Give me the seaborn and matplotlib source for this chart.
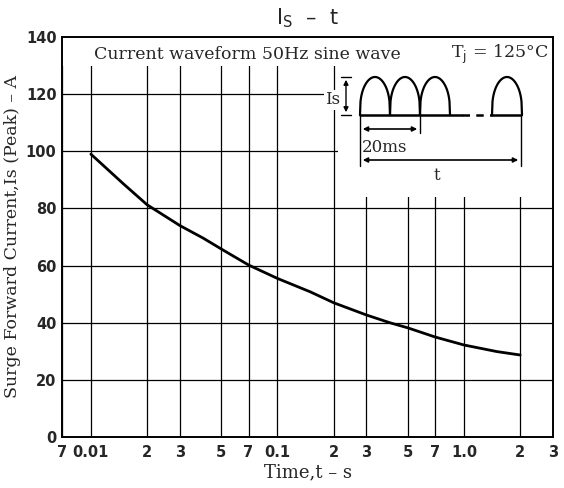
import numpy as np
import pandas as pd
import matplotlib
matplotlib.use("Agg")
import matplotlib.pyplot as plt
from matplotlib.patches import Rectangle
import seaborn as sns

# values
time_s = [0.01, 0.015, 0.02, 0.03, 0.04, 0.05, 0.07, 0.1, 0.15, 0.2,
          0.3, 0.4, 0.5, 0.7, 1.0, 1.5, 2.0]
surge_a = [99, 88.5, 81.3, 74, 69.6, 65.8, 60.2, 55.5, 50.8, 47,
           42.7, 40, 38.2, 35, 32.2, 29.9, 28.7]

x_ticks = [0.007, 0.01, 0.02, 0.03, 0.05, 0.07, 0.1, 0.2, 0.3, 0.5, 0.7, 1.0, 2, 3]
x_labels = ["7", "0.01", "2", "3", "5", "7", "0.1", "2", "3", "5", "7", "1.0", "2", "3"]
y_ticks = [0, 20, 40, 60, 80, 100, 120, 140]

sns.set_style("white")
plt.rcParams['font.family'] = ['DejaVu Serif']

df = pd.DataFrame({"t": time_s, "Is": surge_a})

fig = plt.figure(figsize=(5.64, 4.88), dpi=100)
ax = fig.add_axes([62 / 564, 1 - 437 / 488, (553 - 62) / 564, (437 - 37) / 488])

sns.lineplot(data=df, x="t", y="Is", ax=ax, color="black", lw=2.0, zorder=3,
             solid_joinstyle="round", solid_capstyle="round")

ax.set_xscale("log")
ax.set_xlim(0.007, 3)
ax.set_ylim(0, 140)
ax.set_xticks(x_ticks)
ax.set_xticklabels(x_labels)
ax.minorticks_off()
ax.set_yticks(y_ticks)
ax.tick_params(length=0, labelsize=10.5, pad=6)
ax.tick_params(axis="y", pad=4)
for lab in ax.get_xticklabels() + ax.get_yticklabels():
    lab.set_family("DejaVu Sans")
    lab.set_fontweight("bold")

ax.set_axisbelow(True)
ax.grid(True, color="black", lw=0.9)
for s in ax.spines.values():
    s.set_color("black")
    s.set_linewidth(1.4)

# blank areas for the caption strip and the waveform sketch
ax.add_patch(Rectangle((0.007, 130), 3 - 0.007, 10, facecolor="white",
                       edgecolor="none", zorder=1))
ax.add_patch(Rectangle((0.21, 84), 3 - 0.21, 56, facecolor="white",
                       edgecolor="none", zorder=1))

ax.set_xlabel("Time,t – s", fontsize=13, labelpad=2)
ax.set_ylabel("Surge Forward Current,Is (Peak) – A", fontsize=12.5)
ax.yaxis.set_label_coords(-0.083, 0.5)

fig.text(0.545, 0.962, r"I$_\mathrm{S}$  –  t", ha="center", va="center",
         fontsize=15, family="DejaVu Sans")

ax.text(0.065, 0.957, "Current waveform 50Hz sine wave", transform=ax.transAxes,
        ha="left", va="center", fontsize=12.5, zorder=4)
ax.text(0.99, 0.957, r"T$_\mathrm{j}$ = 125°C", transform=ax.transAxes,
        ha="right", va="center", fontsize=12.5, zorder=4)

# waveform sketch, in pixel units of the reference
ins = fig.add_axes([320 / 564, 1 - 185 / 488, (553 - 320) / 564, (185 - 60) / 488])
ins.set_xlim(320, 553)
ins.set_ylim(185, 60)
ins.axis("off")
ins.patch.set_alpha(0)

base, top = 115, 77
u = np.linspace(0, 1, 60)
for x0 in [360, 390, 420, 492]:
    ins.plot(x0 + 30 * u, base - (base - top) * np.sin(np.pi * u) ** 0.35,
             color="black", lw=1.6)
ins.plot([360, 462], [base, base], color="black", lw=1.8)
ins.plot([462, 492], [base, base], color="black", lw=1.8, ls=(0, (3, 2.5)))
ins.plot([492, 521], [base, base], color="black", lw=1.8)

# Is marker
ins.annotate("", xy=(346, top), xytext=(346, base),
             arrowprops=dict(arrowstyle="<|-|>", color="black", lw=1.0, mutation_scale=7))
ins.plot([341, 351], [top, top], color="black", lw=1.0)
ins.plot([341, 351], [base, base], color="black", lw=1.0)
ins.text(340, 100, "Is", ha="right", va="center", fontsize=12,
         bbox=dict(facecolor="white", edgecolor="none", pad=1))

# 20ms and t dimensions
ins.plot([360, 360], [base, 166], color="black", lw=1.0)
ins.plot([420, 420], [base, 133], color="black", lw=1.0)
ins.plot([521, 521], [base, 166], color="black", lw=1.0)
ins.annotate("", xy=(360, 129), xytext=(420, 129),
             arrowprops=dict(arrowstyle="<|-|>", color="black", lw=1.2, mutation_scale=7))
ins.text(362, 147, "20ms", ha="left", va="center", fontsize=12)
ins.annotate("", xy=(360, 160), xytext=(521, 160),
             arrowprops=dict(arrowstyle="<|-|>", color="black", lw=1.2, mutation_scale=7))
ins.text(437, 176, "t", ha="center", va="center", fontsize=12)

fig.savefig("out.png", dpi=100)
